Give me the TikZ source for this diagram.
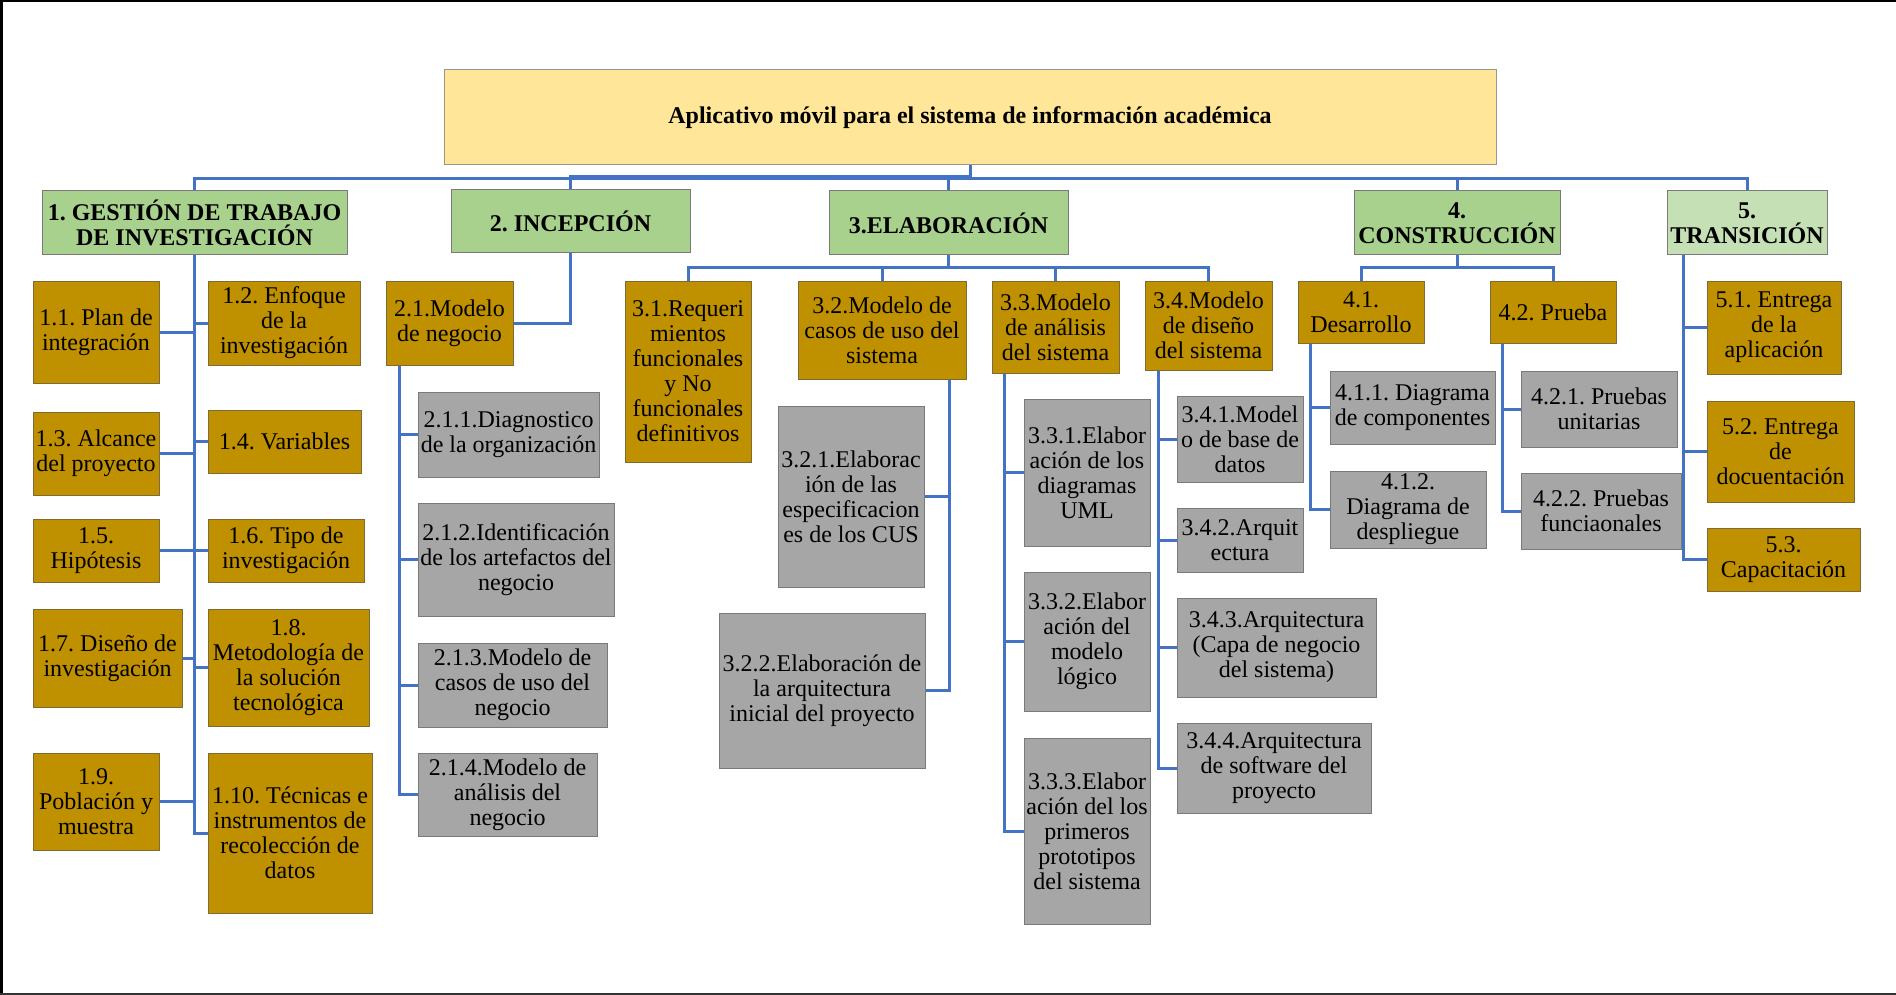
\documentclass[tikz,border=0pt]{standalone}
\usepackage{fontspec}
\setmainfont{Liberation Serif}
\frenchspacing
\definecolor{cGold}{HTML}{BF9000}
\definecolor{cGoldB}{HTML}{7E6A35}
\definecolor{cGrey}{HTML}{A6A6A6}
\definecolor{cGreyB}{HTML}{7A7A7A}
\definecolor{cGreen}{HTML}{A9D18E}
\definecolor{cGreenL}{HTML}{C5E0B4}
\definecolor{cRoot}{HTML}{FFE699}
\definecolor{cRootB}{HTML}{9A968A}
\definecolor{cBlue}{HTML}{4472C4}
\newcommand\bx[7]{%
 \pgfmathsetmacro\bxcx{(#3+#5)/2}%
 \pgfmathsetmacro\bxcy{(#4+#6)/2}%
 \pgfmathsetmacro\bxw{#5-#3}%
 \pgfmathsetmacro\bxh{#6-#4}%
 \node[#1, minimum width=\bxw pt, minimum height=\bxh pt] (#2) at (\bxcx,\bxcy) {#7};}
\newcommand\fs[1]{\fontsize{#1}{25}\selectfont\frenchspacing}
\tikzset{
 basebox/.style={draw, line width=1pt, inner sep=0pt, align=center, font=\fs{24}},
 goldbox/.style={basebox, fill=cGold, draw=cGoldB},
 greybox/.style={basebox, fill=cGrey, draw=cGreyB},
 greenbox/.style={basebox, fill=cGreen, draw=cGreyB, font=\bfseries\fs{24}},
 rootbox/.style={basebox, fill=cRoot, draw=cRootB, font=\bfseries\fs{24}},
 conn/.style={draw=cBlue, line width=3pt},
}
\begin{document}
\begin{tikzpicture}[x=1pt,y=-1pt]
\useasboundingbox (0,0) rectangle (1896,995);
\fill[white] (0,0) rectangle (1896,995);
% frame
\draw[line width=2.5pt, black] (0,1.25) -- (1896,1.25);
\draw[line width=2.5pt, black] (1.25,0) -- (1.25,995);
\draw[line width=2pt, black!80] (0,994) -- (1896,994);

% root
\bx{rootbox}{root}{444}{70}{1496}{165}{Aplicativo móvil para el sistema de información académica}

% top level
\bx{greenbox}{g1}{42}{191}{347}{255}{1. GESTIÓN DE TRABAJO\\DE INVESTIGACIÓN}
\bx{greenbox}{g2}{451}{190}{690}{253}{2. INCEPCIÓN}
\bx{greenbox}{g3}{829}{191}{1068}{255}{3.ELABORACIÓN}
\bx{greenbox}{g4}{1354}{191}{1560}{255}{4.\\CONSTRUCCIÓN}
\bx{greenbox,fill=cGreenL}{g5}{1667}{191}{1827}{255}{5.\\TRANSICIÓN}

% branch 1
\bx{goldbox}{n11}{33}{281}{159}{383}{1.1. Plan de\\integración}
\bx{goldbox}{n12}{208}{281}{360}{365}{1.2. Enfoque\\de la\\investigación}
\bx{goldbox}{n13}{33}{412}{159}{495}{1.3. Alcance\\del proyecto}
\bx{goldbox}{n14}{208}{410}{361}{473}{1.4. Variables}
\bx{goldbox}{n15}{33}{519}{159}{582}{1.5.\\Hipótesis}
\bx{goldbox}{n16}{208}{519}{364}{582}{1.6. Tipo de\\investigación}
\bx{goldbox}{n17}{33}{609}{182}{707}{1.7. Diseño de\\investigación}
\bx{goldbox}{n18}{208}{609}{369}{726}{1.8.\\Metodología de\\la solución\\tecnológica}
\bx{goldbox}{n19}{33}{753}{159}{850}{1.9.\\Población y\\muestra}
\bx{goldbox}{n110}{208}{753}{372}{913}{1.10. Técnicas e\\instrumentos de\\recolección de\\datos}

% branch 2
\bx{goldbox}{n21}{386}{281}{513}{365}{2.1.Modelo\\de negocio}
\bx{greybox}{n211}{418}{392}{599}{477}{2.1.1.Diagnostico\\de la organización}
\bx{greybox}{n212}{418}{503}{614}{616}{2.1.2.Identificación\\de los artefactos del\\negocio}
\bx{greybox}{n213}{418}{643}{607}{727}{2.1.3.Modelo de\\casos de uso del\\negocio}
\bx{greybox}{n214}{418}{753}{597}{836}{2.1.4.Modelo de\\análisis del\\negocio}

% branch 3
\bx{goldbox}{n31}{625}{281}{751}{462}{3.1.Requeri\\mientos\\funcionales\\y No\\funcionales\\definitivos}
\bx{goldbox}{n32}{798}{281}{966}{379}{3.2.Modelo de\\casos de uso del\\sistema}
\bx{goldbox}{n33}{992}{281}{1119}{373}{3.3.Modelo\\de análisis\\del sistema}
\bx{goldbox}{n34}{1145}{281}{1272}{370}{3.4.Modelo\\de diseño\\del sistema}
\bx{greybox}{n321}{778}{406}{924}{587}{3.2.1.Elaborac\\ión de las\\especificacion\\es de los CUS}
\bx{greybox}{n322}{719}{613}{925}{768}{3.2.2.Elaboración de\\la arquitectura\\inicial del proyecto}
\bx{greybox}{n331}{1024}{399}{1150}{546}{3.3.1.Elabor\\ación de los\\diagramas\\UML}
\bx{greybox}{n332}{1024}{572}{1150}{711}{3.3.2.Elabor\\ación del\\modelo\\lógico}
\bx{greybox}{n333}{1024}{738}{1150}{924}{3.3.3.Elabor\\ación del los\\primeros\\prototipos\\del sistema}
\bx{greybox}{n341}{1177}{396}{1303}{482}{3.4.1.Model\\o de base de\\datos}
\bx{greybox}{n342}{1177}{508}{1303}{572}{3.4.2.Arquit\\ectura}
\bx{greybox}{n343}{1177}{598}{1376}{697}{3.4.3.Arquitectura\\(Capa de negocio\\del sistema)}
\bx{greybox}{n344}{1177}{723}{1371}{813}{3.4.4.Arquitectura\\de software del\\proyecto}

% branch 4
\bx{goldbox}{n41}{1298}{281}{1424}{343}{4.1.\\Desarrollo}
\bx{goldbox}{n42}{1490}{281}{1616}{343}{4.2. Prueba}
\bx{greybox}{n411}{1330}{371}{1495}{444}{4.1.1. Diagrama\\de componentes}
\bx{greybox}{n412}{1330}{471}{1486}{548}{4.1.2.\\Diagrama de\\despliegue}
\bx{greybox}{n421}{1521}{371}{1677}{447}{4.2.1. Pruebas\\unitarias}
\bx{greybox}{n422}{1521}{473}{1681}{549}{4.2.2. Pruebas\\funciaonales}

% branch 5
\bx{goldbox}{n51}{1707}{281}{1841}{374}{5.1. Entrega\\de la\\aplicación}
\bx{goldbox}{n52}{1707}{401}{1854}{502}{5.2. Entrega\\de\\docuentación}
\bx{goldbox}{n53}{1707}{528}{1860}{591}{5.3.\\Capacitación}

% ---- connectors ----
\coordinate (busA) at (0,176.5);
\coordinate (busB) at (0,179);
\coordinate (b3) at (0,268);
\draw[conn] (root.south) -- (root.south |- busA) -| (g2.north);
\draw[conn] (g1.north) -- (g1.north |- busB) -- (g5.north |- busB) -- (g5.north);
\draw[conn] (g3.north) -- (g3.north |- busB);
\draw[conn] (g4.north) -- (g4.north |- busB);

% branch 1
\draw[conn] (g1.south) -- (g1.south |- n110.west) -- (n110.west);
\foreach \n in {n11,n13,n15,n17,n19} \draw[conn] (\n.east) -- (\n.east -| g1.south);
\foreach \n in {n12,n14,n16,n18} \draw[conn] (\n.west) -- (\n.west -| g1.south);

% branch 2
\draw[conn] (g2.south) -- (g2.south |- n21.east) -- (n21.east);
\coordinate (t21) at ([xshift=14pt]n21.south west);
\draw[conn] (t21) -- (t21 |- n214.west) -- (n214.west);
\foreach \n in {n211,n212,n213} \draw[conn] (\n.west) -- (\n.west -| t21);

% branch 3
\draw[conn] (g3.south) -- (g3.south |- b3);
\draw[conn] (n31.north) -- (n31.north |- b3) -- (n34.north |- b3) -- (n34.north);
\draw[conn] (n32.north) -- (n32.north |- b3);
\draw[conn] (n33.north) -- (n33.north |- b3);
\coordinate (t32) at ([xshift=-17pt]n32.south east);
\draw[conn] (t32) -- (t32 |- n322.east) -- (n322.east);
\draw[conn] (n321.east) -- (n321.east -| t32);
\coordinate (t33) at ([xshift=13pt]n33.south west);
\draw[conn] (t33) -- (t33 |- n333.west) -- (n333.west);
\foreach \n in {n331,n332} \draw[conn] (\n.west) -- (\n.west -| t33);
\coordinate (t34) at ([xshift=14pt]n34.south west);
\draw[conn] (t34) -- (t34 |- n344.west) -- (n344.west);
\foreach \n in {n341,n342,n343} \draw[conn] (\n.west) -- (\n.west -| t34);

% branch 4
\draw[conn] (g4.south) -- (g4.south |- b3);
\draw[conn] (n41.north) -- (n41.north |- b3) -- (n42.north |- b3) -- (n42.north);
\coordinate (t41) at ([xshift=13pt]n41.south west);
\draw[conn] (t41) -- (t41 |- n412.west) -- (n412.west);
\draw[conn] (n411.west) -- (n411.west -| t41);
\coordinate (t42) at ([xshift=13pt]n42.south west);
\draw[conn] (t42) -- (t42 |- n422.west) -- (n422.west);
\draw[conn] (n421.west) -- (n421.west -| t42);

% branch 5
\coordinate (t5) at ([xshift=16.5pt]g5.south west);
\draw[conn] (t5) -- (t5 |- n53.west) -- (n53.west);
\foreach \n in {n51,n52} \draw[conn] (\n.west) -- (\n.west -| t5);
\end{tikzpicture}
\end{document}
